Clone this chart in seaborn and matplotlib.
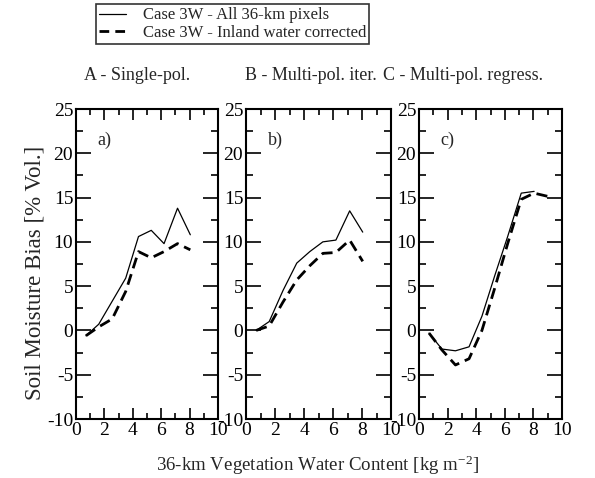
import numpy as np
import pandas as pd
import matplotlib
matplotlib.use("Agg")
import matplotlib.pyplot as plt
import seaborn as sns
from matplotlib.ticker import MultipleLocator
from matplotlib.lines import Line2D

# ---- data ----
vwc = [0.7, 1.6, 2.55, 3.5, 4.4, 5.3, 6.2, 7.15, 8.05]
vwc_c_dash = [0.7, 1.6, 2.55, 3.5, 4.4, 5.3, 6.2, 7.15, 8.05, 9.1]

a_all = [-0.6, 0.7, 3.3, 5.9, 10.6, 11.3, 9.8, 13.8, 10.8]
a_corr = [-0.6, 0.4, 1.3, 4.4, 8.9, 8.2, 8.9, 9.8, 9.1]

b_all = [0.0, 1.0, 4.5, 7.6, 8.9, 10.0, 10.2, 13.5, 11.1]
b_corr = [0.0, 0.5, 3.2, 5.7, 7.3, 8.7, 8.8, 10.2, 7.8]

c_all = [-0.3, -2.1, -2.3, -1.85, 1.6, 6.2, 10.6, 15.5, 15.7]
c_corr = [-0.3, -2.2, -3.9, -3.2, 0.0, 4.8, 9.8, 14.8, 15.5, 15.1]

panel_titles = ["A - Single-pol.", "B - Multi-pol. iter.", "C - Multi-pol. regress."]
panel_tags = ["a)", "b)", "c)"]
series_names = ["Case 3W - All 36-km pixels", "Case 3W - Inland water corrected"]
xticks = [0, 2, 4, 6, 8, 10]
yticks = [-10, -5, 0, 5, 10, 15, 20, 25]

# ---- style ----
sns.set_theme(style="ticks")
plt.rcParams['font.family'] = ['Liberation Serif', 'DejaVu Serif']
plt.rcParams['axes.unicode_minus'] = False
plt.rcParams['mathtext.fontset'] = 'custom'
plt.rcParams['mathtext.rm'] = 'Liberation Serif'
plt.rcParams['mathtext.it'] = 'Liberation Serif:italic'

W, H = 595, 478
fig = plt.figure(figsize=(W / 100, H / 100), dpi=100)

lefts = [76, 246, 419]
widths = [142, 145, 143]
top_px, bot_px = 109, 419

panels = [
    (vwc, a_all, vwc, a_corr),
    (vwc, b_all, vwc, b_corr),
    (vwc, c_all, vwc_c_dash, c_corr),
]
title_cx = [137, 311, 463]

for i, (x1, y1, x2, y2) in enumerate(panels):
    ax = fig.add_axes([lefts[i] / W, 1 - bot_px / H, widths[i] / W, (bot_px - top_px) / H])
    df1 = pd.DataFrame({"x": x1, "y": y1})
    df2 = pd.DataFrame({"x": x2, "y": y2})
    sns.lineplot(data=df1, x="x", y="y", ax=ax, color="black", linewidth=0.9,
                 sort=False, estimator=None)
    sns.lineplot(data=df2, x="x", y="y", ax=ax, color="black", linewidth=2.0,
                 linestyle=(0, (4, 2.2)), sort=False, estimator=None)
    ax.set_xlim(0, 10)
    ax.set_ylim(-10, 25)
    ax.set_xticks(xticks)
    ax.set_yticks(yticks)
    ax.xaxis.set_minor_locator(MultipleLocator(1))
    ax.yaxis.set_minor_locator(MultipleLocator(2.5))
    ax.tick_params(axis='both', which='both', direction='in', top=True, right=True,
                   labelsize=14, colors='black', pad=2)
    ax.tick_params(axis='x', which='major', length=8, width=1.2)
    ax.tick_params(axis='x', which='minor', length=4, width=1.2)
    ax.tick_params(axis='y', which='major', length=11, width=1.2)
    ax.tick_params(axis='y', which='minor', length=5, width=1.2)
    for s in ax.spines.values():
        s.set_linewidth(1.5)
        s.set_color('black')
    ax.set_xlabel("")
    ax.set_ylabel("")
    ax.text(1.5, 21.5, panel_tags[i], fontsize=13, ha='left', va='center')
    fig.text(title_cx[i] / W, 1 - 75 / H, panel_titles[i], fontsize=13,
             ha='center', va='center')

fig.text(35 / W, 1 - 273 / H, "Soil Moisture Bias [% Vol.]", rotation=90,
         fontsize=16.5, ha='center', va='center')
fig.text(317 / W, 1 - 465 / H, "36-km Vegetation Water Content [kg m$^{-2}$]",
         fontsize=13.6, ha='center', va='center')

handles = [Line2D([], [], color='black', linewidth=0.9),
           Line2D([], [], color='black', linewidth=2.0, linestyle=(0, (3.5, 2.2)))]
leg = fig.legend(handles, series_names, loc='upper left',
                 bbox_to_anchor=(96 / W, 1 - 4 / H), fontsize=12,
                 frameon=True, fancybox=False, handlelength=1.6,
                 borderpad=0.2, labelspacing=0.1, handletextpad=1.0,
                 borderaxespad=0)
leg.get_frame().set_edgecolor('black')
leg.get_frame().set_linewidth(1.2)

fig.savefig("out.png", dpi=100)
